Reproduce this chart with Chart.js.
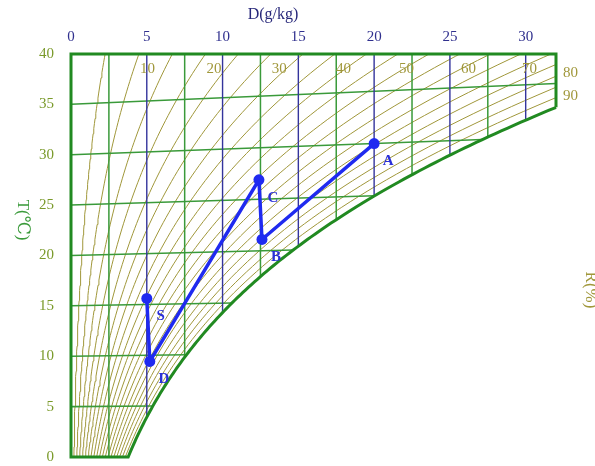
<!DOCTYPE html>
<html lang="zh">
<head>
  <meta charset="UTF-8" />
  <title>焓湿图</title>
  <script src="https://cdn.jsdelivr.net/npm/chart.js"></script>
  <style>
    body { margin: 0; background: #fff; }
    canvas { display: block; }
  </style>
</head>
<body>
  <canvas id="grafico" width="595" height="466"></canvas>
  <script>
    // valores
    const topTicks = [0, 5, 10, 15, 20, 25, 30];
    const leftTicks = [0, 5, 10, 15, 20, 25, 30, 35, 40];
    const rhLevels = [5, 10, 15, 20, 25, 30, 35, 40, 45, 50, 55, 60, 65, 70, 75, 80, 85, 90, 95];
    const rhLabels = [10, 20, 30, 40, 50, 60, 70, 80, 90];
    const isotherms = [5, 10, 15, 20, 25, 30, 35];
    const blueD = [5, 10, 15, 20, 25, 30];
    const greenD = [2.5, 7.5, 12.5, 17.5, 22.5, 27.5];
    const pointNames = ['A', 'B', 'C', 'D', 'S'];
    const pointD = [20, 12.6, 12.4, 5.2, 5.0];
    const pointT = [30, 21.1, 26.9, 9.4, 15.6];

    const D_MAX = 32, Y_MAX = 40;
    const P = 101.325, K = 0.00185;
    const serif = "'Liberation Serif', 'DejaVu Serif', serif";

    // psicrometría
    const ps = t => 0.61094 * Math.exp(17.625 * t / (t + 243.04));
    const dOf = (t, rh) => 622 * rh * ps(t) / (P - rh * ps(t));
    const yOf = (t, d) => t * (1 + K * d);
    const tSat = d => {
      const L = Math.log(d * P / (622 + d) / 0.61094);
      return 243.04 * L / (17.625 - L);
    };
    const ySat = d => yOf(tSat(d), d);

    function rhCurve(rh) {
      const pts = [];
      for (let t = 0; t <= 42; t += 0.5) {
        const d = dOf(t, rh);
        pts.push({ x: d, y: yOf(t, d) });
      }
      return pts;
    }

    function rhExit(rh) {
      let t = 0;
      while (t < 45) {
        const d = dOf(t, rh);
        if (d >= D_MAX) return { x: D_MAX, y: yOf(t, D_MAX), side: 'right' };
        if (yOf(t, d) >= Y_MAX) return { x: d, y: Y_MAX, side: 'top' };
        t += 0.01;
      }
    }

    function line(points, color, width, order, extra) {
      return Object.assign({
        data: points, showLine: true, borderColor: color, borderWidth: width,
        pointRadius: 0, fill: false, tension: 0, order: order
      }, extra || {});
    }

    const datasets = [];

    rhLevels.forEach(v => datasets.push(line(rhCurve(v / 100), '#a0973a', 1, 5)));

    isotherms.forEach(t => {
      const ds = 622 * ps(t) / (P - ps(t));
      datasets.push(line([{ x: 0, y: t }, { x: ds, y: yOf(t, ds) }], '#3a9a3a', 1.5, 4));
    });
    greenD.forEach(d => datasets.push(line([{ x: d, y: Y_MAX }, { x: d, y: ySat(d) }], '#3a9a3a', 1.5, 4)));
    blueD.forEach(d => datasets.push(line([{ x: d, y: Y_MAX }, { x: d, y: ySat(d) }], '#34349c', 1.4, 3)));

    // contorno y curva de saturación
    const borde = [
      { x: D_MAX, y: ySat(D_MAX) }, { x: D_MAX, y: Y_MAX }, { x: 0, y: Y_MAX }, { x: 0, y: 0 }
    ];
    const tEnd = tSat(D_MAX);
    for (let t = 0; t < tEnd; t += 0.25) {
      const ds = 622 * ps(t) / (P - ps(t));
      borde.push({ x: ds, y: yOf(t, ds) });
    }
    borde.push({ x: D_MAX, y: ySat(D_MAX) });
    datasets.push(line(borde, '#218a21', 3, 2, { clip: 6 }));

    // proceso A-B-C-D-S
    const proceso = pointNames.map((n, i) => ({ x: pointD[i], y: yOf(pointT[i], pointD[i]) }));
    datasets.push(line(proceso, '#1f2af0', 3.5, 1, {
      pointRadius: 5.5, pointBackgroundColor: '#1f2af0', pointBorderWidth: 0, clip: 10
    }));

    const textos = {
      id: 'textos',
      afterDatasetsDraw(chart) {
        const { ctx, scales: { x, y } } = chart;
        ctx.save();

        ctx.fillStyle = '#a0973a';
        ctx.font = '15px ' + serif;
        ctx.textAlign = 'left';
        ctx.textBaseline = 'top';
        rhLabels.forEach(v => {
          const e = rhExit(v / 100);
          const px = x.getPixelForValue(e.x), py = y.getPixelForValue(e.y);
          if (e.side === 'top') ctx.fillText(String(v), px + 1, py + 8);
          else ctx.fillText(String(v), px + 7, py + 1);
        });

        ctx.fillStyle = '#2a30d8';
        ctx.font = 'bold 15px ' + serif;
        ctx.textAlign = 'center';
        ctx.textBaseline = 'middle';
        proceso.forEach((p, i) => {
          ctx.fillText(pointNames[i], x.getPixelForValue(p.x) + 14, y.getPixelForValue(p.y) + 18);
        });

        ctx.fillStyle = '#28287a';
        ctx.font = '16px ' + serif;
        ctx.fillText('D(g/kg)', 273, 15);

        ctx.font = '17px ' + serif;
        ctx.fillStyle = '#3a9a3a';
        ctx.save();
        ctx.translate(22, 220);
        ctx.rotate(Math.PI / 2);
        ctx.fillText('T(℃)', 0, 0);
        ctx.restore();

        ctx.fillStyle = '#a0973a';
        ctx.save();
        ctx.translate(590, 290);
        ctx.rotate(Math.PI / 2);
        ctx.fillText('R(%)', 0, 0);
        ctx.restore();

        ctx.restore();
      }
    };

    new Chart(document.getElementById('grafico'), {
      type: 'scatter',
      data: { datasets },
      options: {
        responsive: false,
        animation: false,
        events: [],
        layout: { autoPadding: false, padding: { left: 0, right: 39, top: 0, bottom: 9 } },
        plugins: { legend: { display: false }, tooltip: { enabled: false } },
        scales: {
          x: {
            type: 'linear', position: 'top', min: 0, max: D_MAX,
            afterBuildTicks: s => { s.ticks = topTicks.map(v => ({ value: v })); },
            afterFit: s => { s.height = 54; s.paddingLeft = 0; s.paddingRight = 0; },
            grid: { display: false, drawTicks: false },
            border: { display: false },
            ticks: { color: '#30308e', padding: 8, font: { family: serif, size: 15 } }
          },
          y: {
            type: 'linear', min: 0, max: Y_MAX,
            afterBuildTicks: s => { s.ticks = leftTicks.map(v => ({ value: v })); },
            // sin relleno extra arriba y abajo
            afterFit: s => { s.width = 71; s.paddingTop = 0; s.paddingBottom = 0; },
            grid: { display: false, drawTicks: false },
            border: { display: false },
            ticks: { color: '#7a9a2a', padding: 17, font: { family: serif, size: 15 } }
          }
        }
      },
      plugins: [textos]
    });
  </script>
</body>
</html>
